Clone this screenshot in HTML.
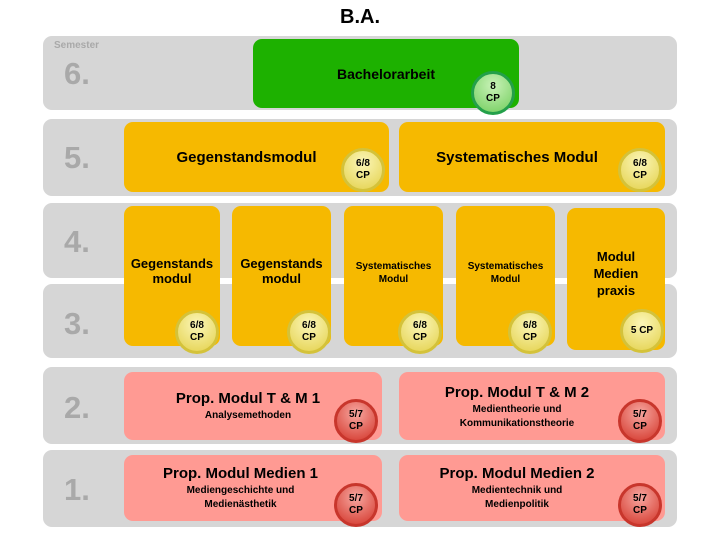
<!DOCTYPE html>
<html><head><meta charset="utf-8"><style>
body{margin:0;width:720px;height:540px;background:#fff;position:relative;overflow:hidden;font-family:"Liberation Sans",Arial,sans-serif;}
div{position:absolute;box-sizing:border-box;}
.band{left:43px;width:634px;background:#d6d6d6;border-radius:9px;}
.num{font-weight:bold;font-size:31px;color:#a9a9a9;left:64px;}
.box{border-radius:9px;font-weight:bold;color:#000;text-align:center;display:flex;flex-direction:column;justify-content:center;align-items:center;}
.y{background:#f6b900;}
.p{background:#ff9a93;}
.b{width:44px;height:44px;border-radius:50%;font-weight:bold;font-size:10px;line-height:12px;display:flex;align-items:center;justify-content:center;text-align:center;color:#000;}
.by{background:radial-gradient(circle at 50% 30%,#fbf6b8,#e8d860 80%);border:3px solid #d4c23a;}
.bp{background:radial-gradient(circle at 50% 30%,#f7a7a0,#d8453a 85%);border:3px solid #c8362c;}
.bg{background:radial-gradient(circle at 50% 30%,#c9f2b8,#7fd36a 85%);border:3px solid #24a04a;}
</style></head><body>
<div style="left:0;width:720px;top:6px;text-align:center;font-weight:bold;font-size:20px;">B.A.</div>

<div class="band" style="top:36px;height:74px"></div>
<div class="band" style="top:119px;height:77px"></div>
<div class="band" style="top:203px;height:75px"></div>
<div class="band" style="top:284px;height:74px"></div>
<div class="band" style="top:367px;height:77px"></div>
<div class="band" style="top:450px;height:77px"></div>

<div style="left:54px;top:40px;font-size:10px;font-weight:bold;color:#a9a9a9">Semester</div>
<div class="num" style="top:56px">6.</div>
<div class="num" style="top:140px">5.</div>
<div class="num" style="top:224px">4.</div>
<div class="num" style="top:306px">3.</div>
<div class="num" style="top:390px">2.</div>
<div class="num" style="top:472px">1.</div>

<div class="box" style="left:253px;top:39px;width:266px;height:69px;background:#1db100;font-size:14px;">Bachelorarbeit</div>
<div class="b bg" style="left:471px;top:71px">8<br>CP</div>

<div class="box y" style="left:124px;top:122px;width:265px;height:70px;font-size:15px;padding-right:20px">Gegenstandsmodul</div>
<div class="b by" style="left:341px;top:148px">6/8<br>CP</div>
<div class="box y" style="left:399px;top:122px;width:266px;height:70px;font-size:15px;padding-right:30px">Systematisches Modul</div>
<div class="b by" style="left:618px;top:148px">6/8<br>CP</div>

<div class="box y" style="left:124px;top:206px;width:96px;height:140px;font-size:13px;justify-content:flex-start;padding-top:50px">Gegenstands<br>modul</div>
<div class="b by" style="left:175px;top:310px">6/8<br>CP</div>
<div class="box y" style="left:232px;top:206px;width:99px;height:140px;font-size:13px;justify-content:flex-start;padding-top:50px">Gegenstands<br>modul</div>
<div class="b by" style="left:287px;top:310px">6/8<br>CP</div>
<div class="box y" style="left:344px;top:206px;width:99px;height:140px;font-size:10px;line-height:13px;justify-content:flex-start;padding-top:54px">Systematisches<br>Modul</div>
<div class="b by" style="left:398px;top:310px">6/8<br>CP</div>
<div class="box y" style="left:456px;top:206px;width:99px;height:140px;font-size:10px;line-height:13px;justify-content:flex-start;padding-top:54px">Systematisches<br>Modul</div>
<div class="b by" style="left:508px;top:310px">6/8<br>CP</div>
<div class="box y" style="left:567px;top:208px;width:98px;height:142px;font-size:13px;line-height:17px;justify-content:flex-start;padding-top:40px">Modul<br>Medien<br>praxis</div>
<div class="b by" style="left:620px;top:309px">5 CP</div>

<div class="box p" style="left:124px;top:372px;width:258px;height:68px;justify-content:flex-start;padding-top:18px;padding-right:10px"><span style="font-size:15px">Prop. Modul T &amp; M 1</span><span style="font-size:10px;margin-top:3px">Analysemethoden</span></div>
<div class="b bp" style="left:334px;top:399px">5/7<br>CP</div>
<div class="box p" style="left:399px;top:372px;width:266px;height:68px;justify-content:flex-start;padding-top:12px;padding-right:30px"><span style="font-size:15px">Prop. Modul T &amp; M 2</span><span style="font-size:10px;line-height:14px;margin-top:2px">Medientheorie und<br>Kommunikationstheorie</span></div>
<div class="b bp" style="left:618px;top:399px">5/7<br>CP</div>

<div class="box p" style="left:124px;top:455px;width:258px;height:66px;justify-content:flex-start;padding-top:10px;padding-right:25px"><span style="font-size:15px">Prop. Modul Medien 1</span><span style="font-size:10px;line-height:14px;margin-top:2px">Mediengeschichte und<br>Medienästhetik</span></div>
<div class="b bp" style="left:334px;top:483px">5/7<br>CP</div>
<div class="box p" style="left:399px;top:455px;width:266px;height:66px;justify-content:flex-start;padding-top:10px;padding-right:30px"><span style="font-size:15px">Prop. Modul Medien 2</span><span style="font-size:10px;line-height:14px;margin-top:2px">Medientechnik und<br>Medienpolitik</span></div>
<div class="b bp" style="left:618px;top:483px">5/7<br>CP</div>
</body></html>
